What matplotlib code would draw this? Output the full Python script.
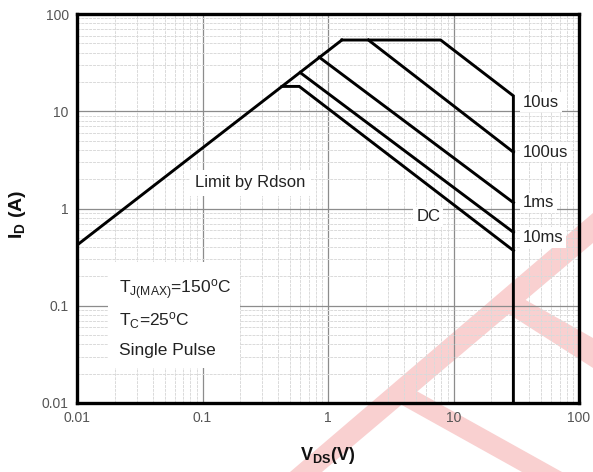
import matplotlib
matplotlib.use("Agg")
import matplotlib.pyplot as plt
from matplotlib.patches import Polygon, Rectangle

plt.rcParams['font.family'] = ['Liberation Sans', 'DejaVu Sans']
plt.rcParams['mathtext.fontset'] = 'custom'
plt.rcParams['mathtext.rm'] = 'Liberation Sans'
plt.rcParams['mathtext.it'] = 'Liberation Sans'
plt.rcParams['mathtext.bf'] = 'Liberation Sans:bold'

# Safe operating area corner points (V_DS in volts, I_D in amps)
rdson_v = [0.01, 1.29]
rdson_i = [0.42, 54]
us10_v = [1.29, 7.9, 30, 30]
us10_i = [54, 54, 14.4, 0.01]
us100_v = [2.1, 30]
us100_i = [54, 3.8]
ms1_v = [0.85, 30]
ms1_i = [36, 1.15]
ms10_v = [0.6, 30]
ms10_i = [25, 0.57]
dc_v = [0.43, 0.59, 30]
dc_i = [18, 18, 0.37]

curve_labels = ['10us', '100us', '1ms', '10ms']
label_i = [12.4, 3.8, 1.14, 0.50]

tick_vals = [0.01, 0.1, 1, 10, 100]
tick_text = ['0.01', '0.1', '1', '10', '100']

W, H = 593, 472
fig = plt.figure(figsize=(W / 100, H / 100), dpi=100)
fig.patch.set_facecolor('white')
ax = fig.add_axes([77 / W, 1 - 403 / H, 502 / W, 389 / H])
ax.set_facecolor('none')

# faint red logo stamped behind the plot (pixel outline, top-left origin)
logo = [
    [(290, 472), (322, 472), (593, 243), (593, 213)],
    [(382, 394), (404, 384), (562, 472), (522, 472)],
    [(490, 302), (508, 290), (593, 338), (593, 368)],
]
for pts in logo:
    fig.patches.append(Polygon([(x / W, 1 - y / H) for x, y in pts], closed=True,
                               transform=fig.transFigure, facecolor='#f9d0d0',
                               edgecolor='none', zorder=-1))

ax.set_xscale('log')
ax.set_yscale('log')
ax.set_xlim(0.01, 100)
ax.set_ylim(0.01, 100)

ax.grid(which='major', color='#8c8c8c', linewidth=0.9, linestyle='-')
ax.grid(which='minor', color='#dadada', linewidth=0.7, linestyle=(0, (3, 1)))
ax.set_axisbelow(True)

lw = 2.1
for v, i in [(rdson_v, rdson_i), (us10_v, us10_i), (us100_v, us100_i),
             (ms1_v, ms1_i), (ms10_v, ms10_i), (dc_v, dc_i)]:
    ax.plot(v, i, color='black', linewidth=lw, solid_joinstyle='miter', zorder=3)

ax.set_xticks(tick_vals)
ax.set_xticklabels(tick_text)
ax.set_yticks(tick_vals)
ax.set_yticklabels(tick_text)
ax.tick_params(which='both', length=0, labelsize=10, labelcolor='#555555', pad=6)
for s in ax.spines.values():
    s.set_linewidth(2.4)
    s.set_color('black')

white = dict(facecolor='white', edgecolor='none', pad=2)
for txt, yi in zip(curve_labels, label_i):
    ax.text(35.5, yi, txt, fontsize=12, color='#222222', ha='left', va='center',
            bbox=white, zorder=4)
ax.text(6.3, 0.82, 'DC', fontsize=12, color='#222222', ha='center', va='center',
        bbox=white, zorder=4)
ax.text(0.24, 1.83, 'Limit by Rdson', fontsize=12, color='#222222', ha='center',
        va='center', bbox=dict(facecolor='white', edgecolor='none', pad=4), zorder=4)

# conditions block on a plain white panel
ax.add_patch(Rectangle((0.062, 0.09), 0.263, 0.272, transform=ax.transAxes,
                       facecolor='white', edgecolor='none', zorder=2.5))
cond = [r'T$_{\mathregular{J(MAX)}}$=150$^{\mathregular{o}}$C',
        r'T$_{\mathregular{C}}$=25$^{\mathregular{o}}$C',
        'Single Pulse']
for txt, yf in zip(cond, [0.29, 0.211, 0.136]):
    ax.text(0.084, yf, txt, transform=ax.transAxes, fontsize=12.5, color='#222222',
            ha='left', va='center', zorder=4)

fig.text(328 / W, 1 - 455 / H, r'V$_{\mathregular{DS}}$(V)', fontsize=13, fontweight='bold',
         color='#111111', ha='center', va='center')
fig.text(18 / W, 1 - 214 / H, r'I$_{\mathregular{D}}$ (A)', fontsize=14, fontweight='bold',
         color='#111111', ha='center', va='center', rotation=90)

fig.savefig('out.png', dpi=100)
